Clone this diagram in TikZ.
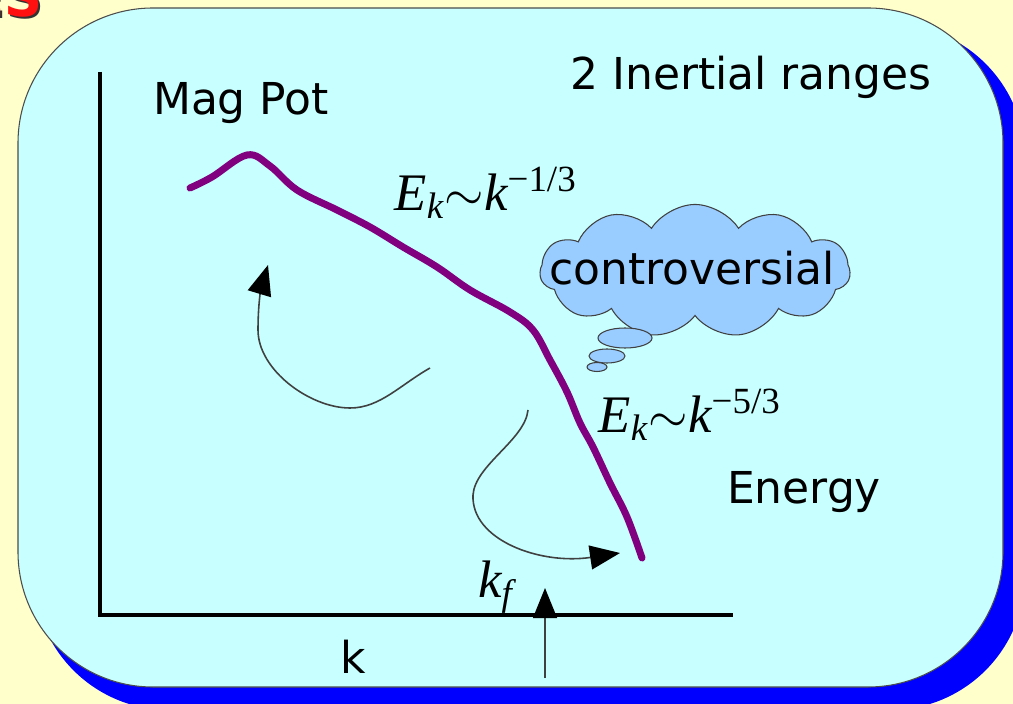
\documentclass[tikz,border=0pt]{standalone}
\usepackage{fontspec}
\setmainfont{DejaVu Sans}
\newfontfamily\eqfont{Liberation Serif}
\usetikzlibrary{shapes.geometric, shapes.symbols, arrows.meta, positioning}
\definecolor{SlideCream}{HTML}{FFFFCC}
\definecolor{PanelCyan}{HTML}{C8FFFF}
\definecolor{PanelBlue}{HTML}{0000FF}
\definecolor{CloudBlue}{HTML}{99CCFF}
\definecolor{SpecPurple}{HTML}{800080}
\definecolor{TitleRed}{HTML}{FF1010}
\newcommand{\wave}{\(\sim\)}
\tikzset{
    % Text styles
    plainlabel/.style={
        font=\fontsize{12.5}{15}\selectfont,
        inner sep=0pt
    },
    eqlabel/.style={
        font=\fontsize{15}{18}\selectfont\eqfont\itshape,
        inner sep=0pt
    },
    titlefrag/.style={
        font=\fontsize{15}{17}\selectfont\bfseries,
        inner sep=0pt,
        anchor=base east
    },
    % Panel and shapes
    panel/.style={
        fill=PanelCyan,
        draw=black!70,
        line width=0.3pt,
        rounded corners=1.35cm
    },
    panelshadow/.style={
        fill=PanelBlue,
        rounded corners=1.35cm
    },
    cloudshape/.style={
        cloud,
        cloud puffs=11,
        cloud puff arc=115,
        aspect=2.3,
        draw=black!75,
        fill=CloudBlue,
        line width=0.3pt,
        minimum width=3.1cm,
        minimum height=1.33cm,
        inner sep=0pt
    },
    bubble/.style={
        ellipse,
        draw=black!75,
        fill=CloudBlue,
        line width=0.3pt,
        inner sep=0pt
    },
    % Line styles
    axisline/.style={
        line width=0.04cm,
        draw=black
    },
    spectrum/.style={
        line width=0.07cm,
        draw=SpecPurple,
        line cap=round,
        line join=round
    },
    flowarrow/.style={
        -{Triangle[length=0.3cm, width=0.24cm, color=black]},
        line width=0.45pt,
        draw=black!75
    }
}
\begin{document}
\begin{tikzpicture}[x=0.01cm, y=-0.01cm]
    \useasboundingbox (0,0) rectangle (1013,704);
    \fill[SlideCream] (0,0) rectangle (1013,704);

    % Title fragment
    \node[titlefrag, text=black!80] (esshadow) at (45,19) {ES};
    \node[titlefrag, text=TitleRed] (esfrag) at (43,17) {ES};

    % Panel
    \fill[panelshadow] (34,24) rectangle (1025,710);
    \draw[panel] (18,8) rectangle (1003,687);

    % Axes
    \coordinate (ytop) at (100,72);
    \coordinate (origin) at (100,615);
    \coordinate (xend) at (733,615);
    \draw[axisline] (ytop) -- (origin) -- (xend);

    % Spectrum
    \draw[spectrum] plot[smooth, tension=0.6] coordinates {
        (190,188) (212,177) (247,155) (270,166) (297,190) (337,210)
        (370,227) (403,247) (437,267) (470,290) (510,312) (533,330)
        (550,360) (567,392) (580,423) (593,447) (610,483) (627,517) (642,558)};

    % Labels
    \node[plainlabel] (magpot) at (241,103) {Mag Pot};
    \node[plainlabel] (ranges) at (751,77) {2 Inertial ranges};
    \node[plainlabel] (energy) at (804,492) {Energy};
    \node[plainlabel] (kaxis) at (353,657) {k};
    \node[eqlabel] (slopeone) at (486,193) {E\textsubscript{k}\wave k\textsuperscript{\upshape −1/3}};
    \node[eqlabel] (slopefive) at (690,415) {E\textsubscript{k}\wave k\textsuperscript{\upshape −5/3}};
    \node[eqlabel] (kforce) at (496,587) {k\textsubscript{f}};

    % Thought cloud
    \node[cloudshape] (cloud) at (695,271) {};
    \node[bubble, minimum width=0.54cm, minimum height=0.2cm] (bubbleA) at (625,338) {};
    \node[bubble, minimum width=0.36cm, minimum height=0.14cm] (bubbleB) at (607,356) {};
    \node[bubble, minimum width=0.2cm, minimum height=0.09cm] (bubbleC) at (597,367) {};
    \node[plainlabel] (controv) at (692,268) {controversial};

    % Cascade arrows
    \coordinate (invstart) at (430,368);
    \coordinate (invlow) at (350,408);
    \coordinate (invleft) at (258,330);
    \coordinate (invend) at (268,265);
    \draw[flowarrow] (invstart) .. controls (400,385) and (380,408) .. (invlow)
        .. controls (310,408) and (258,370) .. (invleft)
        .. controls (258,300) and (262,285) .. (invend);

    \coordinate (dirstart) at (528,410);
    \coordinate (dirleft) at (473,495);
    \coordinate (dirend) at (620,553);
    \draw[flowarrow] (dirstart) .. controls (525,440) and (475,465) .. (dirleft)
        .. controls (471,540) and (540,565) .. (dirend);

    \coordinate (forcebase) at (545,678);
    \coordinate (forcetip) at (545,588);
    \draw[flowarrow] (forcebase) -- (forcetip);
\end{tikzpicture}
\end{document}
